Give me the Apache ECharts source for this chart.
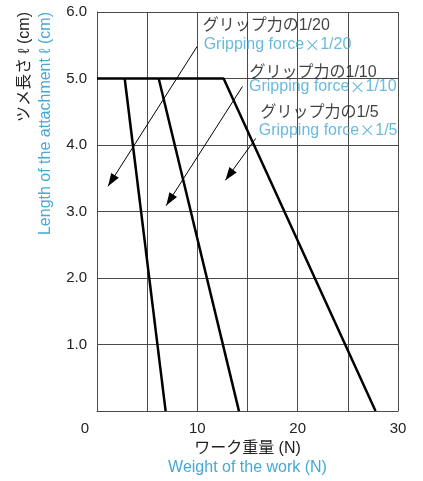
<!DOCTYPE html>
<html><head><meta charset="utf-8">
<script src="https://cdn.jsdelivr.net/npm/echarts@6/dist/echarts.min.js"></script>
<style>html,body{margin:0;padding:0;background:#fff}#c{width:423px;height:481px}</style>
</head><body><div id="c"></div>
<script>
// ---- data ----
const xLabeled = [0, 10, 20, 30];
const line20 = [[2.76, 5.0], [6.84, 0]];
const line10 = [[6.15, 5.0], [14.15, 0]];
const line5 = [[0, 5.0], [12.62, 5.0], [27.76, 0]];
const arrowFrom = [[9.97, 5.48], [14.5, 4.88], [15.82, 4.10]];
const arrowTo = [[1.1, 3.38], [6.9, 3.09], [12.8, 3.47]];
const labelJP = ['グリップ力の1/20', 'グリップ力の1/10', 'グリップ力の1/5'];
const labelEN = ['Gripping force', 'Gripping force', 'Gripping force'];
const ratios = ['1/20', '1/10', '1/5'];
const labelJPPos = [[10.53, 5.79], [15.2, 5.095], [16.29, 4.49]];
const labelENPos = [[10.63, 5.51], [15.15, 4.876], [16.12, 4.22]];
const yTitleJP = 'ツメ長さ ℓ (cm)';
const yTitleEN = 'Length of the attachment ℓ (cm)';
const xTitleJP = 'ワーク重量 (N)';
const xTitleEN = 'Weight of the work (N)';

const BLUE = '#45a9d5';
const LAT = "'Liberation Sans', Arial, sans-serif";
const CJK = "'Noto Sans CJK JP', sans-serif";
const MIX = "'Liberation Sans', 'Noto Sans CJK JP', sans-serif";
const GRID = '#4a4a4a';

const chart = echarts.init(document.getElementById('c'), null, {renderer: 'canvas'});

const annot = [];
labelJP.forEach((t, i) => annot.push({value: labelJPPos[i], kind: 'jp', text: t}));
labelEN.forEach((t, i) => annot.push({value: labelENPos[i], kind: 'en', text: t, ratio: ratios[i]}));

const option = {
  animation: false,
  backgroundColor: '#fff',
  grid: {left: 97, right: 25, top: 12, bottom: 67},
  xAxis: {
    type: 'value', min: 0, max: 30, interval: 5,
    axisLine: {show: true, lineStyle: {color: GRID, width: 1}},
    axisTick: {show: false},
    splitLine: {show: true, lineStyle: {color: GRID, width: 1}},
    axisLabel: {
      margin: 10, color: '#222', fontSize: 15, fontFamily: LAT,
      formatter: v => v === 0 ? '{z|0}' : (xLabeled.indexOf(v) >= 0 ? String(v) : ''),
      rich: {z: {fontSize: 15, fontFamily: LAT, color: '#222', padding: [0, 24, 0, 0]}}
    },
    name: '{a|' + xTitleJP + '}\n{b|' + xTitleEN + '}',
    nameLocation: 'middle', nameGap: 27,
    nameTextStyle: {
      rich: {
        a: {fontSize: 16, fontFamily: MIX, color: '#222', lineHeight: 19},
        b: {fontSize: 16, fontFamily: LAT, color: BLUE, lineHeight: 19}
      }
    }
  },
  yAxis: {
    type: 'value', min: 0, max: 6, interval: 1,
    axisLine: {show: true, lineStyle: {color: GRID, width: 1}},
    axisTick: {show: false},
    splitLine: {show: true, lineStyle: {color: GRID, width: 1}},
    axisLabel: {
      margin: 10, color: '#222', fontSize: 15, fontFamily: LAT, padding: [0, 0, 5, 0],
      formatter: v => v === 0 ? '' : v.toFixed(1)
    }
  },
  series: [
    {type: 'line', data: line20, symbol: 'none', lineStyle: {color: '#000', width: 2.5}, silent: true},
    {type: 'line', data: line10, symbol: 'none', lineStyle: {color: '#000', width: 2.5}, silent: true},
    {type: 'line', data: line5, symbol: 'none', lineStyle: {color: '#000', width: 2.5}, silent: true,
      markLine: {
        silent: true, animation: false,
        symbol: ['none', 'triangle'], symbolSize: [9, 13],
        symbolOffset: [[0, 0], [0, 6.5]],
        lineStyle: {color: '#000', width: 1, type: 'solid'},
        label: {show: false},
        data: arrowFrom.map((f, i) => [{coord: f}, {coord: arrowTo[i]}])
      }
    },
    {
      type: 'scatter', data: annot, symbolSize: 0, silent: true,
      label: {
        show: true, position: 'right', distance: 0,
        formatter: p => p.data.kind === 'jp'
          ? '{j|' + p.data.text + '}'
          : '{e|' + p.data.text + '}{x|×}{e|' + p.data.ratio + '}',
        rich: {
          j: {fontSize: 16, fontFamily: MIX, color: '#111'},
          e: {fontSize: 16, fontFamily: LAT, color: BLUE},
          x: {fontSize: 16, fontFamily: CJK, color: BLUE}
        }
      }
    }
  ],
  graphic: [
    {type: 'text', x: 25, y: 12, rotation: Math.PI / 2,
      style: {text: yTitleJP, fill: '#222', font: "16px 'Liberation Sans', 'Noto Sans CJK JP', sans-serif", align: 'right', verticalAlign: 'middle'}},
    {type: 'text', x: 46, y: 12, rotation: Math.PI / 2,
      style: {text: yTitleEN, fill: BLUE, font: "16px 'Liberation Sans', sans-serif", align: 'right', verticalAlign: 'middle'}}
  ]
};
chart.setOption(option);
</script></body></html>
